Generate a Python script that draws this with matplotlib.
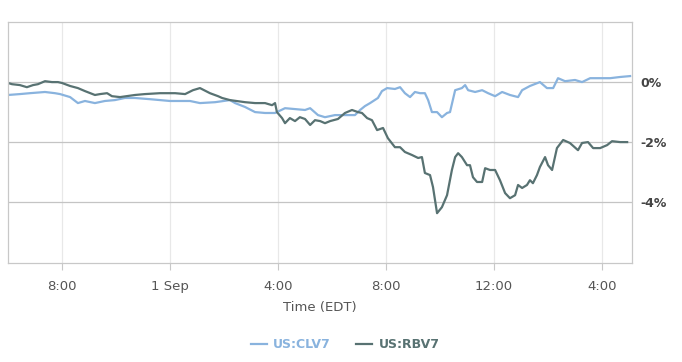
import matplotlib.pyplot as plt

# hours relative to 1 Sep 00:00 EDT, change in %
clv7_hours = [-6.0, -5.56, -5.19, -4.63, -4.26, -4.07, -3.70, -3.41, -3.15, -2.78,
              -2.41, -2.04, -1.67, -1.30, -0.74, 0.0, 0.74, 1.11, 1.67, 2.22,
              2.41, 2.78, 3.15, 3.52, 3.89, 4.26, 4.63, 5.0, 5.19, 5.48,
              5.74, 6.11, 6.48, 6.85, 7.04, 7.22, 7.41, 7.70, 7.85, 8.04,
              8.33, 8.52, 8.70, 8.89, 9.07, 9.26, 9.44, 9.56, 9.70, 9.89,
              10.07, 10.26, 10.37, 10.56, 10.81, 10.93, 11.04, 11.30, 11.56, 11.78,
              12.04, 12.30, 12.59, 12.89, 13.04, 13.33, 13.70, 13.96, 14.19, 14.37,
              14.63, 15.0, 15.26, 15.56, 15.93, 16.30, 16.67, 17.04]
clv7_pct = [-0.43, -0.40, -0.37, -0.33, -0.37, -0.40, -0.50, -0.70, -0.63, -0.70,
            -0.63, -0.60, -0.53, -0.53, -0.57, -0.63, -0.63, -0.70, -0.67, -0.60,
            -0.70, -0.83, -1.00, -1.03, -1.03, -0.87, -0.90, -0.93, -0.87, -1.10,
            -1.17, -1.10, -1.10, -1.10, -0.93, -0.80, -0.70, -0.53, -0.30, -0.20,
            -0.23, -0.17, -0.37, -0.50, -0.33, -0.37, -0.37, -0.60, -1.00, -1.00,
            -1.17, -1.03, -1.00, -0.27, -0.20, -0.10, -0.27, -0.33, -0.27, -0.37,
            -0.47, -0.33, -0.43, -0.50, -0.27, -0.13, 0.0, -0.20, -0.20, 0.13,
            0.03, 0.07, 0.0, 0.13, 0.13, 0.13, 0.17, 0.20]

rbv7_hours = [-6.0, -5.85, -5.56, -5.30, -5.07, -4.89, -4.63, -4.37, -4.15, -4.0,
              -3.70, -3.41, -3.15, -2.78, -2.59, -2.33, -2.15, -1.85, -1.30, -0.93,
              -0.37, 0.19, 0.56, 0.85, 1.11, 1.48, 1.78, 1.93, 2.22, 2.78,
              3.15, 3.52, 3.78, 3.89, 3.96, 4.15, 4.26, 4.44, 4.63, 4.81,
              5.0, 5.19, 5.37, 5.56, 5.74, 5.93, 6.22, 6.48, 6.74, 6.96,
              7.11, 7.30, 7.48, 7.67, 7.89, 8.07, 8.33, 8.52, 8.70, 8.96,
              9.19, 9.33, 9.44, 9.63, 9.74, 9.89, 10.07, 10.26, 10.44, 10.56,
              10.67, 10.81, 11.0, 11.11, 11.22, 11.37, 11.56, 11.67, 11.85, 12.04,
              12.22, 12.41, 12.59, 12.78, 12.89, 13.04, 13.22, 13.33, 13.44, 13.59,
              13.70, 13.89, 14.0, 14.15, 14.33, 14.56, 14.81, 15.11, 15.26, 15.48,
              15.67, 15.93, 16.19, 16.37, 16.67, 16.93]
rbv7_pct = [-0.03, -0.07, -0.10, -0.17, -0.10, -0.07, 0.03, 0.0, 0.0, -0.03,
            -0.13, -0.20, -0.30, -0.43, -0.40, -0.37, -0.47, -0.50, -0.43, -0.40,
            -0.37, -0.37, -0.40, -0.27, -0.20, -0.37, -0.47, -0.53, -0.60, -0.67,
            -0.70, -0.70, -0.77, -0.70, -1.00, -1.20, -1.37, -1.20, -1.30, -1.17,
            -1.23, -1.43, -1.27, -1.30, -1.37, -1.30, -1.23, -1.03, -0.93, -1.00,
            -1.03, -1.20, -1.27, -1.60, -1.53, -1.87, -2.17, -2.17, -2.33, -2.43,
            -2.53, -2.50, -3.03, -3.10, -3.50, -4.37, -4.17, -3.77, -2.93, -2.50,
            -2.37, -2.50, -2.77, -2.77, -3.17, -3.33, -3.33, -2.87, -2.93, -2.93,
            -3.27, -3.70, -3.87, -3.77, -3.43, -3.53, -3.43, -3.27, -3.37, -3.10,
            -2.83, -2.50, -2.77, -2.93, -2.20, -1.93, -2.03, -2.27, -2.03, -2.00,
            -2.20, -2.20, -2.10, -1.97, -2.00, -2.00]

tick_hours = [-4, 0, 4, 8, 12, 16]
tick_labels = ['8:00', '1 Sep', '4:00', '8:00', '12:00', '4:00']
y_ticks = [0, -2, -4]
y_labels = ['0%', '-2%', '-4%']

fig = plt.figure(figsize=(6.82, 3.62), dpi=100)
ax = fig.add_axes([0.0117, 0.2735, 0.915, 0.6655])

ax.plot(clv7_hours, clv7_pct, color='#89b3de', lw=1.6, label='US:CLV7')
ax.plot(rbv7_hours, rbv7_pct, color='#587272', lw=1.6, label='US:RBV7')

ax.set_xlim(-6.0, 17.11)
ax.set_ylim(-6.03, 2.0)

ax.set_xticks(tick_hours)
ax.set_xticklabels(tick_labels, fontsize=9.5, color='#555555')
ax.set_yticks(y_ticks)
ax.set_yticklabels(y_labels, fontsize=9, fontweight='bold', color='#444444')
ax.yaxis.tick_right()
ax.tick_params(axis='y', length=0, pad=6)
ax.tick_params(axis='x', length=5, color='#c8c8c8', pad=7)

ax.grid(axis='y', color='#c4c4c4', lw=0.9)
ax.grid(axis='x', color='#e8e8e8', lw=0.9)
ax.set_axisbelow(True)
for s in ax.spines.values():
    s.set_color('#c8c8c8')
    s.set_linewidth(0.9)

ax.set_xlabel('Time (EDT)', fontsize=9.5, color='#555555', labelpad=6)

leg = fig.legend(loc='center', bbox_to_anchor=(0.506, 0.047), ncol=2, frameon=False,
                 handlelength=1.3, columnspacing=2.0, handletextpad=0.5,
                 prop={'weight': 'bold', 'size': 9})
for txt, line in zip(leg.get_texts(), leg.get_lines()):
    txt.set_color(line.get_color())

fig.savefig('out.png', dpi=100)
